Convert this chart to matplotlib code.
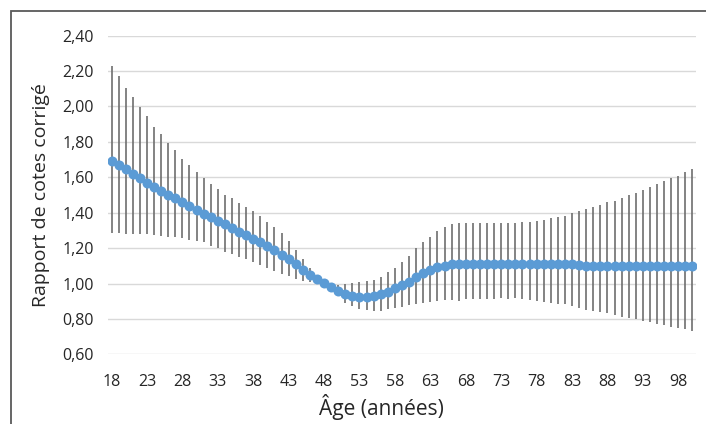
import numpy as np
import matplotlib
matplotlib.use("Agg")
import matplotlib.pyplot as plt
from matplotlib.patches import Rectangle
from matplotlib.ticker import FuncFormatter

plt.rcParams["font.family"] = ["Open Sans", "DejaVu Sans"]

# Data (ages 18..100)
ages = list(range(18, 101))

odds_ratio = [
    1.694, 1.670, 1.647, 1.619, 1.594, 1.570, 1.547, 1.524, 1.500, 1.481,  # 18-27
    1.459, 1.438, 1.415, 1.393, 1.374, 1.355, 1.336, 1.314, 1.293, 1.274,  # 28-37
    1.253, 1.236, 1.212, 1.189, 1.161, 1.137, 1.108, 1.075, 1.048, 1.024,  # 38-47
    1.001, 0.982, 0.959, 0.941, 0.929, 0.926, 0.922, 0.929, 0.941, 0.954,  # 48-57
    0.973, 0.992, 1.010, 1.035, 1.058, 1.076, 1.092, 1.101, 1.108, 1.110,  # 58-67
    1.110, 1.110, 1.110, 1.110, 1.110, 1.110, 1.110, 1.110, 1.110, 1.110,  # 68-77
    1.110, 1.110, 1.110, 1.110, 1.110, 1.110, 1.104, 1.100, 1.100, 1.100,  # 78-87
    1.100, 1.100, 1.100, 1.100, 1.100, 1.100, 1.100, 1.100, 1.100, 1.100,  # 88-97
    1.100, 1.100, 1.100,                                                   # 98-100
]

ci_upper = [
    2.230, 2.172, 2.106, 2.055, 1.999, 1.946, 1.886, 1.845, 1.796, 1.753,
    1.702, 1.668, 1.628, 1.594, 1.560, 1.534, 1.500, 1.485, 1.457, 1.434,
    1.410, 1.383, 1.349, 1.318, 1.284, 1.240, 1.189, 1.138, 1.087, 1.043,
    1.003, 0.999, 0.992, 0.995, 1.005, 1.007, 1.014, 1.020, 1.038, 1.063,
    1.089, 1.120, 1.155, 1.199, 1.233, 1.264, 1.298, 1.318, 1.334, 1.340,
    1.340, 1.340, 1.340, 1.340, 1.340, 1.340, 1.340, 1.340, 1.349, 1.349,
    1.355, 1.359, 1.368, 1.374, 1.383, 1.400, 1.410, 1.419, 1.434, 1.444,
    1.459, 1.468, 1.485, 1.500, 1.510, 1.528, 1.543, 1.560, 1.579, 1.594,
    1.609, 1.628, 1.645,
]

ci_lower = [
    1.284, 1.284, 1.282, 1.280, 1.278, 1.278, 1.272, 1.270, 1.265, 1.262,
    1.255, 1.247, 1.240, 1.232, 1.212, 1.200, 1.180, 1.165, 1.150, 1.138,
    1.120, 1.105, 1.085, 1.068, 1.055, 1.040, 1.025, 1.012, 1.010, 1.006,
    0.998, 0.965, 0.931, 0.888, 0.873, 0.856, 0.848, 0.846, 0.846, 0.854,
    0.861, 0.869, 0.880, 0.883, 0.891, 0.897, 0.899, 0.905, 0.907, 0.903,
    0.912, 0.912, 0.910, 0.912, 0.912, 0.916, 0.912, 0.916, 0.910, 0.907,
    0.903, 0.897, 0.888, 0.884, 0.882, 0.873, 0.863, 0.850, 0.845, 0.837,
    0.832, 0.822, 0.813, 0.807, 0.798, 0.790, 0.785, 0.771, 0.766, 0.756,
    0.750, 0.741, 0.732,
]

y_ticks = [0.60, 0.80, 1.00, 1.20, 1.40, 1.60, 1.80, 2.00, 2.20, 2.40]
x_ticks = list(range(18, 101, 5))

ages = np.array(ages)
odds_ratio = np.array(odds_ratio)
err = [odds_ratio - np.array(ci_lower), np.array(ci_upper) - odds_ratio]

fig = plt.figure(figsize=(7.06, 4.24), dpi=100)
ax = fig.add_axes([108 / 706, 1 - 354.3 / 424, 588 / 706, (354.3 - 35.7) / 424])

ax.errorbar(ages, odds_ratio, yerr=err, fmt="none", ecolor="#6e6e6e",
            elinewidth=1.2, capsize=0, zorder=2)
ax.plot(ages, odds_ratio, color="#5B9BD5", lw=2.5, marker="o",
        markersize=7.2, markeredgewidth=0, zorder=3)

ax.set_xlim(17.5, 100.5)
ax.set_ylim(0.6, 2.4)
ax.set_xticks(x_ticks)
ax.set_yticks(y_ticks)
ax.yaxis.set_major_formatter(FuncFormatter(lambda v, p: f"{v:.2f}".replace(".", ",")))
ax.grid(axis="y", color="#d9d9d9", lw=1.0)
ax.set_axisbelow(True)
for s in ax.spines.values():
    s.set_visible(False)
ax.tick_params(length=0, labelsize=11.5, colors="#262626")
ax.tick_params(axis="y", pad=10)
ax.tick_params(axis="x", pad=14)

ax.set_xlabel("Âge (années)", fontsize=15, color="#262626")
ax.xaxis.set_label_coords((381 - 108) / 588, -0.125)
ax.set_ylabel("Rapport de cotes corrigé", fontsize=14, color="#262626", labelpad=9)

# outer chart frame (partly cut off by the image edge)
fig.patches.append(Rectangle((10.5 / 706, -0.2), 1.2, 1.2 - 11 / 424,
                             transform=fig.transFigure, fill=False,
                             edgecolor="#595959", lw=1.3))

fig.savefig("out.png", dpi=100)
